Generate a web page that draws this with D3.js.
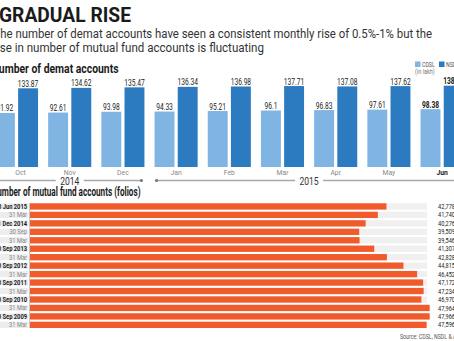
<!DOCTYPE html>
<html>
<head>
<meta charset="utf-8">
<script src="https://cdn.jsdelivr.net/npm/d3@7"></script>
<style>
  html, body { margin: 0; padding: 0; background: #fff; overflow: hidden; }
  svg { display: block; font-family: Roboto, "Open Sans", sans-serif; }
</style>
</head>
<body>
<svg id="chart" width="454" height="341"></svg>
<script>
// Demat accounts per month (in lakh)
const months = ["Oct", "Nov", "Dec", "Jan", "Feb", "Mar", "Apr", "May", "Jun"];
const seriesNames = ["CDSL", "NSDL"];
const cdslValues = [91.92, 92.61, 93.98, 94.33, 95.21, 96.1, 96.83, 97.61, 98.38];
const nsdlValues = [133.87, 134.62, 135.47, 136.34, 136.98, 137.71, 137.08, 137.62, 138.31];
const yearGroups = [
  { year: "2014", from: "Oct", to: "Dec" },
  { year: "2015", from: "Jan", to: "Jun" }
];

// Mutual fund folios
const folioDates = ["30 Jun 2015", "31 Mar", "31 Dec 2014", "30 Sep", "31 Mar", "30 Sep 2013", "31 Mar",
  "30 Sep 2012", "31 Mar", "30 Sep 2011", "31 Mar", "30 Sep 2010", "31 Mar", "30 Sep 2009", "31 Mar"];
const folioValues = [42778, 41740, 40276, 39509, 39546, 41307, 42828, 44815, 46452, 47172, 47234, 46970, 47964, 47966, 47596];

const colors = { CDSL: "#7fb4e3", NSDL: "#2c7bc1", folio: "#f15a2a" };

const svg = d3.select("#chart");

// squeeze text horizontally to mimic a condensed face
function condense(sel, factor) {
  sel.each(function () {
    const w = this.getComputedTextLength();
    d3.select(this).attr("textLength", w * factor).attr("lengthAdjust", "spacingAndGlyphs");
  });
}
function fitText(sel, width) {
  sel.attr("textLength", width).attr("lengthAdjust", "spacingAndGlyphs");
}

// ---------- header ----------
svg.append("text").attr("x", -1).attr("y", 21.5)
  .attr("font-size", 19.5).attr("font-weight", 700).attr("fill", "#1b1b1b")
  .text("GRADUAL RISE").call(fitText, 132);

svg.append("text").attr("x", -6.5).attr("y", 38)
  .attr("font-size", 12).attr("fill", "#333")
  .text("The number of demat accounts have seen a consistent monthly rise of 0.5%-1% but the")
  .call(fitText, 438.5);
svg.append("text").attr("x", -7).attr("y", 51.5)
  .attr("font-size", 12).attr("fill", "#333")
  .text("rise in number of mutual fund accounts is fluctuating")
  .call(fitText, 271);

svg.append("text").attr("x", -8.5).attr("y", 73)
  .attr("font-size", 13).attr("font-weight", 700).attr("fill", "#1b1b1b")
  .text("Number of demat accounts").call(fitText, 127);

// ---------- demat grouped bars ----------
const x0 = d3.scaleBand().domain(months).range([-10.1, 468.7]).paddingInner(0.19).paddingOuter(0.095);
const x1 = d3.scaleBand().domain(seriesNames).range([0, x0.bandwidth()]).paddingInner(0.14);
const y = d3.scaleLinear().domain([0, 140]).range([167, 84.7]);

const demat = months.map((m, i) => ({ month: m, CDSL: cdslValues[i], NSDL: nsdlValues[i] }));
const groups = svg.append("g").selectAll("g").data(demat).join("g")
  .attr("transform", d => `translate(${x0(d.month)},0)`);

groups.selectAll("rect").data(d => seriesNames.map(s => ({ s, v: d[s] }))).join("rect")
  .attr("x", d => x1(d.s)).attr("width", x1.bandwidth())
  .attr("y", d => y(d.v)).attr("height", d => y(0) - y(d.v))
  .attr("fill", d => colors[d.s]);

groups.each(function (d, gi) {
  const last = gi === months.length - 1;
  d3.select(this).selectAll("text.val").data(seriesNames.map(s => ({ s, v: d[s] }))).join("text")
    .attr("class", "val")
    .attr("x", e => x1(e.s) + x1.bandwidth() / 2).attr("y", e => y(e.v) - 1.5)
    .attr("text-anchor", "middle").attr("font-size", 9.5)
    .attr("font-weight", last ? 700 : 400).attr("fill", "#222")
    .text(e => String(e.v))
    .call(condense, 0.7);
});

// month labels
svg.append("g").selectAll("text").data(months).join("text")
  .attr("x", m => x0(m) + x0.bandwidth() / 2 + (m === "Oct" ? 4 : 0)).attr("y", 174.5)
  .attr("text-anchor", "middle").attr("font-size", 8)
  .attr("font-weight", m => m === "Jun" ? 700 : 400)
  .attr("fill", m => m === "Jun" ? "#222" : "#888")
  .text(m => m).call(condense, 0.85);

// year brackets
const yearG = svg.append("g");
yearGroups.forEach(g => {
  const a = x0(g.from) + 2, b = x0(g.to) + x0.bandwidth() - 3;
  const mid = (x0(g.from) + x0(g.to) + x0.bandwidth()) / 2;
  yearG.append("line").attr("x1", a).attr("x2", b).attr("y1", 180.5).attr("y2", 180.5)
    .attr("stroke", "#a8a8a8").attr("stroke-width", 1.4);
  [a, b].forEach(px => yearG.append("circle").attr("cx", px).attr("cy", 180.5).attr("r", 1.6).attr("fill", "#777"));
  yearG.append("rect").attr("x", mid - 14).attr("y", 176.5).attr("width", 28).attr("height", 9).attr("fill", "#fff");
  yearG.append("text").attr("x", mid).attr("y", 184.5).attr("text-anchor", "middle")
    .attr("font-size", 10).attr("fill", "#333").text(g.year).call(condense, 0.85);
});

// legend
const legend = svg.append("g");
const legendItems = [{ s: "CDSL", x: 415 }, { s: "NSDL", x: 439 }];
legendItems.forEach(it => {
  legend.append("rect").attr("x", it.x).attr("y", 61.5).attr("width", 5.5).attr("height", 5.5).attr("fill", colors[it.s]);
  legend.append("text").attr("x", it.x + 7).attr("y", 67).attr("font-size", 7).attr("fill", "#555")
    .text(it.s).call(condense, 0.75);
});
legend.append("text").attr("x", 415).attr("y", 74).attr("font-size", 6.5).attr("fill", "#777")
  .text("(in lakh)").call(condense, 0.85);

// ---------- mutual fund folios ----------
svg.append("text").attr("x", -8.5).attr("y", 196)
  .attr("font-size", 12.5).attr("font-weight", 700).attr("fill", "#1b1b1b")
  .text("Number of mutual fund accounts (folios)").call(fitText, 149);

const xf = d3.scaleLinear().domain([0, 48000]).range([30, 430]);
const yf = d3.scaleBand().domain(d3.range(folioDates.length)).range([202.2, 329.1]).paddingInner(0.255).paddingOuter(0.128);
const rows = folioDates.map((d, i) => ({ date: d, value: folioValues[i], i }));
const fmt = d3.format(",");

const rowG = svg.append("g").selectAll("g").data(rows).join("g");
rowG.append("rect").attr("x", 0).attr("width", 28.5)
  .attr("y", d => yf(d.i)).attr("height", yf.bandwidth()).attr("fill", "#ededed");
rowG.append("rect").attr("x", xf(0)).attr("width", 427 - xf(0))
  .attr("y", d => yf(d.i)).attr("height", yf.bandwidth()).attr("fill", "#f0f0f0");
rowG.append("rect").attr("x", xf(0)).attr("width", d => xf(d.value) - xf(0))
  .attr("y", d => yf(d.i)).attr("height", yf.bandwidth()).attr("fill", colors.folio);

rowG.append("text").attr("x", 27).attr("y", d => yf(d.i) + yf.bandwidth() / 2 + 2.5)
  .attr("text-anchor", "end").attr("font-size", 7.2)
  .attr("font-weight", d => /\d{4}$/.test(d.date) ? 700 : 400)
  .attr("fill", d => /\d{4}$/.test(d.date) ? "#222" : "#888")
  .text(d => d.date).call(condense, 0.8);

rowG.append("text").attr("x", 455).attr("y", d => yf(d.i) + yf.bandwidth() / 2 + 2.6)
  .attr("text-anchor", "end").attr("font-size", 7.8).attr("fill", "#222")
  .text(d => fmt(d.value)).call(condense, 0.72);

svg.append("line").attr("x1", 29.5).attr("x2", 29.5).attr("y1", yf(0)).attr("y2", yf(folioDates.length - 1) + yf.bandwidth())
  .attr("stroke", "#bbb").attr("stroke-width", 0.8);

svg.append("text").attr("x", 400).attr("y", 339).attr("font-size", 7).attr("fill", "#555")
  .text("Source: CDSL, NSDL & AMFI").call(condense, 0.75);
</script>
</body>
</html>
